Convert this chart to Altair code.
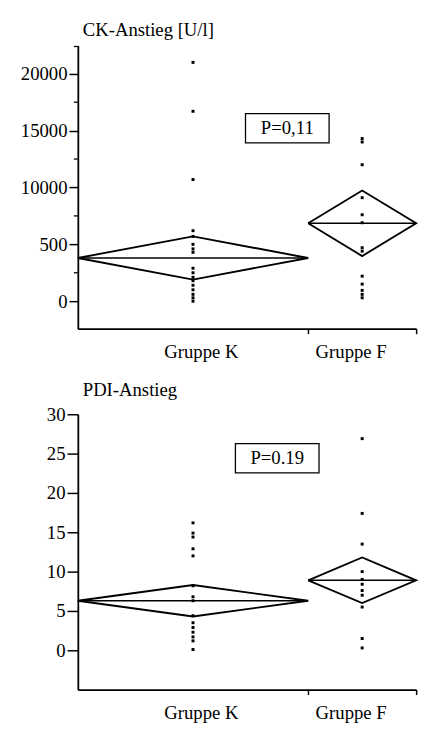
import altair as alt
import pandas as pd

# ---------------- data ----------------
groups = ["Gruppe K", "Gruppe F"]
group_n = [32, 15]

ck_K = [21000, 16700, 10700, 6200, 5700, 5000, 4600, 4300, 2900, 2500, 2100,
        1800, 1400, 1000, 600, 300, 0]
ck_F = [14300, 14000, 12000, 9100, 7600, 6900, 4700, 4400, 2200, 1500, 950, 600, 300]
ck_mean = [3800, 6850]
ck_ci = [1900, 2880]
ck_ticks = [0, 5000, 10000, 15000, 20000]
ck_tick_labels = ["0", "500", "10000", "15000", "20000"]
ck_minor_ticks = [2500, 7500, 12500, 17500, 22400]
ck_domain = [-2420, 22490]
ck_title = "CK-Anstieg [U/l]"
ck_p = "P=0,11"
ck_p_at = [29.1, 15200]

pdi_K = [16.2, 14.9, 14.4, 12.9, 12.0, 8.2, 6.8, 6.3, 4.4, 3.5, 2.9, 2.3, 1.7, 1.2, 0.1]
pdi_F = [26.9, 17.4, 13.5, 10.0, 9.0, 8.4, 7.6, 7.0, 5.5, 1.5, 0.3]
pdi_mean = [6.3, 8.9]
pdi_ci = [2.0, 2.9]
pdi_ticks = [0, 5, 10, 15, 20, 25, 30]
pdi_tick_labels = ["0", "5", "10", "15", "20", "25", "30"]
pdi_minor_ticks = []
pdi_domain = [-5, 30]
pdi_title = "PDI-Anstieg"
pdi_p = "P=0.19"
pdi_p_at = [27.7, 24.4]

# ---------------- styling ----------------
FONT = "Liberation Serif"
FS = 19
label_shift = [1.1, -1.6]  # label offsets from group centres (x units)

total = sum(group_n)
lefts = [sum(group_n[:i]) for i in range(len(group_n))]
rights = [lefts[i] + group_n[i] for i in range(len(group_n))]
centers = [(l + r) / 2 for l, r in zip(lefts, rights)]
label_pos = [c + s for c, s in zip(centers, label_shift)]


def expr_map(values, labels):
    e = ""
    for v, lab in zip(values, labels):
        e += f"abs(datum.value - ({v})) < 1e-6 ? '{lab}' : "
    return e + "''"


def panel(values_by_group, means, cis, ticks, tick_labels, minor, domain, title,
          p_text, p_at, height, ytick):
    pts = pd.DataFrame([
        {"g": g, "x": centers[i], "y": v}
        for i, g in enumerate(groups) for v in values_by_group[i]
    ])
    dia_rows = []
    for i, g in enumerate(groups):
        verts = [(lefts[i], means[i]), (centers[i], means[i] + cis[i]),
                 (rights[i], means[i]), (centers[i], means[i] - cis[i]),
                 (lefts[i], means[i])]
        for k, (xx, yy) in enumerate(verts):
            dia_rows.append({"g": g, "o": k, "x": xx, "y": yy})
    dia = pd.DataFrame(dia_rows)
    mean_df = pd.DataFrame({"g": groups, "x": lefts, "x2": rights, "y": means})
    p_df = pd.DataFrame({"x": [p_at[0]], "y": [p_at[1]], "t": [p_text]})

    xvals = []
    xlabs = []
    for i in range(len(groups)):
        xvals += [label_pos[i], rights[i]]
        xlabs += [groups[i], ""]
    tick_test = " || ".join(f"abs(datum.value - ({r})) < 1e-6" for r in rights)

    x_axis = alt.Axis(
        values=xvals, labelExpr=expr_map(xvals, xlabs), title=None, grid=False,
        domainColor="black", domainWidth=1.8, tickColor="black", tickWidth=1.5,
        tickSize=5, tickOpacity={"condition": {"test": tick_test, "value": 1}, "value": 0},
        labelPadding=9, labelFont=FONT, labelFontSize=FS, labelColor="black",
        labelFlush=False, labelOverlap=False, labelBaseline="top")
    y_axis = alt.Axis(
        values=ticks, labelExpr=expr_map(ticks, tick_labels), title=None, grid=False,
        domainColor="black", domainWidth=1.8, tickColor="black", tickWidth=1.5,
        tickSize=ytick, labelPadding=2, labelFont=FONT, labelFontSize=FS,
        labelColor="black", labelFlush=False, labelOverlap=False)

    xs = alt.Scale(domain=[0, total], nice=False, zero=False)
    ys = alt.Scale(domain=domain, nice=False, zero=False)

    X = lambda f="x": alt.X(f"{f}:Q", scale=xs, axis=x_axis)
    Y = lambda: alt.Y("y:Q", scale=ys, axis=y_axis)

    points = alt.Chart(pts).mark_square(size=9, color="black", opacity=1).encode(
        x=X(), y=Y())
    diamond = alt.Chart(dia).mark_line(color="black", strokeWidth=1.9).encode(
        x=X(), y=Y(), order="o:Q", detail="g:N")
    mean_line = alt.Chart(mean_df).mark_rule(color="black", strokeWidth=1.6).encode(
        x=X(), x2="x2:Q", y=Y())
    box = alt.Chart(p_df).mark_point(
        shape="M-1,-0.35H1V0.35H-1Z", size=7225, filled=False, stroke="black",
        strokeWidth=1.3, opacity=1).encode(x=X(), y=Y())
    ptxt = alt.Chart(p_df).mark_text(
        font=FONT, fontSize=FS, color="black", align="center", baseline="middle").encode(
        x=X(), y=Y(), text="t:N")

    layers = [points, diamond, mean_line, box, ptxt]
    if minor:
        minor_df = pd.DataFrame({"y": minor})
        minor_layer = alt.Chart(minor_df).mark_rule(
            color="black", strokeWidth=1.3, clip=False).encode(
            y=Y(), x=alt.value(-4), x2=alt.value(0))
        layers.append(minor_layer)

    return alt.layer(*layers).properties(
        width=344, height=height,
        title=alt.TitleParams(title, anchor="start", frame="group", dx=5, offset=6,
                              font=FONT, fontSize=FS, fontWeight="normal",
                              color="black"))


top = panel([ck_K, ck_F], ck_mean, ck_ci, ck_ticks, ck_tick_labels, ck_minor_ticks,
            ck_domain, ck_title, ck_p, ck_p_at, 288, 9)
bottom = panel([pdi_K, pdi_F], pdi_mean, pdi_ci, pdi_ticks, pdi_tick_labels,
               pdi_minor_ticks, pdi_domain, pdi_title, pdi_p, pdi_p_at, 280, 11)

chart = alt.vconcat(top, bottom, spacing=20).properties(
    padding={"left": 12, "top": 7, "right": 5, "bottom": 5},
    background="white",
).configure(font=FONT).configure_view(strokeWidth=0)

chart.save("out.html", embed_options={"renderer": "svg", "actions": False})
